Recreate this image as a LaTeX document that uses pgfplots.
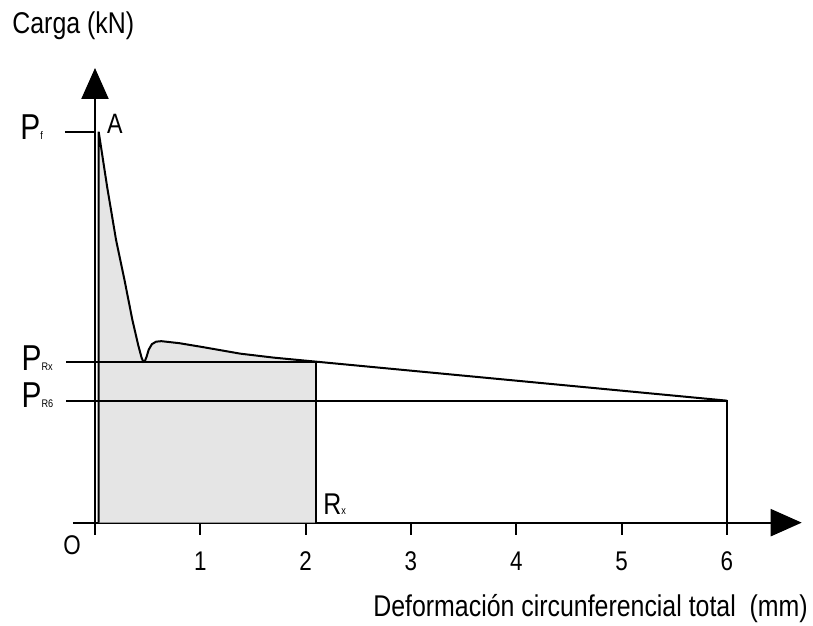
\documentclass[border=0pt]{standalone}
\usepackage{pgfplots}
\pgfplotsset{compat=1.18}
\usepackage{fontspec}
\setmainfont{Liberation Sans}[FakeStretch=0.83]
\usetikzlibrary{arrows.meta}
\definecolor{shade}{HTML}{E5E5E5}
\begin{document}
\begin{tikzpicture}
\begin{axis}[
  scale only axis,
  width=364.4pt, height=233.5pt,
  xmin=-0.209, xmax=6.71, ymin=-1.23, ymax=45.47,
  axis lines=middle,
  axis line style={line width=1.1pt, -{Triangle[width=13.5pt,length=15.5pt]}},
  clip=false,
  xtick={1,2,3,4,5,6}, xticklabels={1,2,3,4,5,6},
  ytick=\empty,
  tick align=outside, major tick length=6pt,
  tick style={line width=0.9pt, black},
  /pgf/number format/assume math mode=true,
  xticklabel style={font=\fontsize{13.5}{15}\selectfont, anchor=base, yshift=-18pt},
]
% shaded area under curve up to Rx
\addplot[fill=shade, draw=none] coordinates {
  (0.035,0) (0.035,39.1) (0.115,33.6) (0.20,28.27) (0.28,24.27) (0.355,20.27)
  (0.41,17.77) (0.443,16.47) (0.459,16.1) (0.475,16.2) (0.49,16.6) (0.51,17.3)
  (0.54,17.85) (0.58,18.1) (0.63,18.15) (0.8,17.95)
  (1.0,17.6) (1.38,16.9) (1.7,16.5) (2.1,16.1) (2.1,0)
} -- cycle;
% load-deformation curve
\addplot[black, line width=1pt] coordinates {
  (0.035,0) (0.035,39.1) (0.115,33.6) (0.20,28.27) (0.28,24.27) (0.355,20.27)
  (0.41,17.77) (0.443,16.47) (0.459,16.1) (0.475,16.2) (0.49,16.6) (0.51,17.3)
  (0.54,17.85) (0.58,18.1) (0.63,18.15) (0.8,17.95)
  (1.0,17.6) (1.38,16.9) (1.7,16.5) (2.1,16.1) (4.0,14.2) (6.0,12.2)
};
% reference lines
\addplot[black, line width=0.9pt] coordinates {(-0.285,39.1) (0,39.1)};
\addplot[black, line width=0.9pt] coordinates {(-0.275,16.1) (2.1,16.1) (2.1,0)};
\addplot[black, line width=0.9pt] coordinates {(-0.275,12.2) (6.0,12.2) (6.0,0)};
% labels
\node[anchor=base west, inner sep=0] at (axis cs:-0.788,48.94) {\fontsize{15}{17}\selectfont Carga (kN)};
\node[anchor=base west, inner sep=0] at (axis cs:2.639,-9.43) {\fontsize{15}{17}\selectfont Deformación circunferencial total\ \ (mm)};
\node[anchor=base, inner sep=0] at (axis cs:-0.218,-3.23) {\fontsize{13.5}{15}\selectfont O};
\node[anchor=base west, inner sep=0] at (axis cs:0.111,38.87) {\fontsize{14}{16}\selectfont A};
\node[anchor=base west, inner sep=0] at (axis cs:-0.712,38.27) {\fontsize{18}{19}\selectfont P\fontsize{5.5}{6}\selectfont f};
\node[anchor=base west, inner sep=0] at (axis cs:-0.700,15.2) {\fontsize{18}{19}\selectfont P\fontsize{5.5}{6}\selectfont Rx};
\node[anchor=base west, inner sep=0] at (axis cs:-0.700,11.47) {\fontsize{18}{19}\selectfont P\fontsize{5.5}{6}\selectfont R6};
\node[anchor=base west, inner sep=0] at (axis cs:2.165,0.77) {\fontsize{15}{17}\selectfont R\fontsize{5.5}{6}\selectfont x};
\path (axis cs:-0.902,-10.33) rectangle (axis cs:6.817,52.27);
\end{axis}
\end{tikzpicture}
\end{document}
